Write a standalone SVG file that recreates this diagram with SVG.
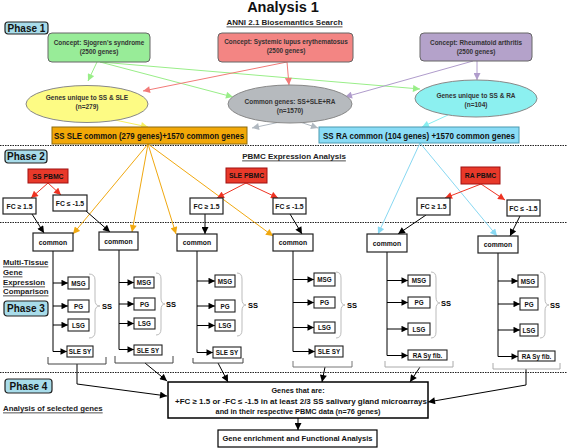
<svg xmlns="http://www.w3.org/2000/svg" width="567" height="448" viewBox="0 0 567 448">
<style>
text{font-family:"Liberation Sans",Arial,sans-serif;font-weight:bold;text-anchor:middle;dominant-baseline:central;fill:#111}
.ph rect{fill:#a8dcea;stroke:#222;stroke-width:1.2}
.ph text{font-size:10px}
.con text{font-size:6.4px;fill:#333}
.con rect{stroke:#666;stroke-width:1}
.ell ellipse{stroke:#888;stroke-width:1}
.ell text{font-size:6.5px;fill:#333}
.wb rect{fill:#fff;stroke:#222;stroke-width:1.2}
.wb text{font-size:6.8px}
.sm rect{fill:#fff;stroke:#222;stroke-width:1.1}
.sm text{font-size:6.3px}
.pb rect{fill:#e8392a;stroke:#a01010;stroke-width:1}
.pb text{font-size:6.8px}
.ul{text-decoration:underline;font-size:8px;fill:#222}
.lt{text-anchor:start;font-size:7.8px;text-decoration:underline;fill:#222}
.dot{stroke:#222;stroke-width:1;stroke-dasharray:1.5,1}
.ln{fill:none}
.brace{fill:none;stroke:#bbb;stroke-width:1}
.br{fill:none;stroke-width:1}
.sm text.ss{font-size:7.5px;fill:#000}
</style>
<defs>
<marker id="mG" viewBox="0 0 10 10" refX="10" refY="5" markerWidth="8" markerHeight="7" markerUnits="userSpaceOnUse" orient="auto"><path d="M0,0L10,5L0,10z" fill="#99ee88"/></marker>
<marker id="mR" viewBox="0 0 10 10" refX="10" refY="5" markerWidth="8" markerHeight="7" markerUnits="userSpaceOnUse" orient="auto"><path d="M0,0L10,5L0,10z" fill="#f27a78"/></marker>
<marker id="mP" viewBox="0 0 10 10" refX="10" refY="5" markerWidth="8" markerHeight="7" markerUnits="userSpaceOnUse" orient="auto"><path d="M0,0L10,5L0,10z" fill="#b09ccc"/></marker>
<marker id="mY" viewBox="0 0 10 10" refX="10" refY="5" markerWidth="8" markerHeight="7" markerUnits="userSpaceOnUse" orient="auto"><path d="M0,0L10,5L0,10z" fill="#f8f060"/></marker>
<marker id="mGr" viewBox="0 0 10 10" refX="10" refY="5" markerWidth="8" markerHeight="7" markerUnits="userSpaceOnUse" orient="auto"><path d="M0,0L10,5L0,10z" fill="#b0b8c0"/></marker>
<marker id="mC" viewBox="0 0 10 10" refX="10" refY="5" markerWidth="8" markerHeight="7" markerUnits="userSpaceOnUse" orient="auto"><path d="M0,0L10,5L0,10z" fill="#88eef0"/></marker>
<marker id="mO" viewBox="0 0 10 10" refX="10" refY="5" markerWidth="8" markerHeight="7" markerUnits="userSpaceOnUse" orient="auto"><path d="M0,0L10,5L0,10z" fill="#f0a810"/></marker>
<marker id="mB" viewBox="0 0 10 10" refX="10" refY="5" markerWidth="8" markerHeight="7" markerUnits="userSpaceOnUse" orient="auto"><path d="M0,0L10,5L0,10z" fill="#88d8f2"/></marker>
<marker id="mPR" viewBox="0 0 10 10" refX="10" refY="5" markerWidth="8" markerHeight="7" markerUnits="userSpaceOnUse" orient="auto"><path d="M0,0L10,5L0,10z" fill="#ee3322"/></marker>
<marker id="mK" viewBox="0 0 10 10" refX="10" refY="5" markerWidth="8" markerHeight="7" markerUnits="userSpaceOnUse" orient="auto"><path d="M0,0L10,5L0,10z" fill="#000"/></marker>
<marker id="mk" viewBox="0 0 10 10" refX="10" refY="5" markerWidth="7.5" markerHeight="6.5" markerUnits="userSpaceOnUse" orient="auto"><path d="M0,0L10,5L0,10z" fill="#000"/></marker>
</defs>
<rect width="567" height="448" fill="#fff"/>

<!-- titles and separators -->
<g id="titles">
<text x="283" y="7" style="font-size:14.5px" fill="#000">Analysis 1</text>
<text class="ul" x="284.5" y="22">ANNI 2.1 Biosemantics Search</text>
<text class="ul" x="294" y="156">PBMC Expression Analysis</text>
<text class="lt" x="3" y="262">Multi-Tissue</text>
<text class="lt" x="3" y="272">Gene</text>
<text class="lt" x="3" y="282">Expression</text>
<text class="lt" x="3" y="291">Comparison</text>
<text class="lt" x="3" y="408">Analysis of selected genes</text>
</g>
<g id="separators">
<line class="dot" x1="0" y1="145.5" x2="567" y2="145.5"/>
<line class="dot" x1="0" y1="222.5" x2="567" y2="222.5"/>
<line class="dot" x1="0" y1="372.5" x2="567" y2="372.5"/>
</g>

<!-- connectors -->
<g id="connectors" class="ln" stroke-width="1">
<g stroke="#99ee88">
<line x1="97" y1="62" x2="88" y2="81" marker-end="url(#mG)"/>
<line x1="100" y1="62" x2="233" y2="97" marker-end="url(#mG)"/>
<line x1="100" y1="62" x2="420" y2="89" marker-end="url(#mG)"/>
</g>
<g stroke="#f27a78">
<line x1="287" y1="62" x2="143" y2="91" marker-end="url(#mR)"/>
<line x1="287" y1="62" x2="289" y2="85" marker-end="url(#mR)"/>
</g>
<g stroke="#b09ccc">
<line x1="473" y1="61" x2="345" y2="97" marker-end="url(#mP)"/>
<line x1="477" y1="61" x2="477" y2="80" marker-end="url(#mP)"/>
</g>
<line stroke="#f8f060" x1="115" y1="120" x2="148" y2="127" marker-end="url(#mY)"/>
<line stroke="#b0b8c0" x1="280" y1="122" x2="252" y2="128" marker-end="url(#mGr)"/>
<line stroke="#b0b8c0" x1="300" y1="122" x2="318" y2="128" marker-end="url(#mGr)"/>
<line stroke="#88eef0" x1="448" y1="115" x2="422" y2="127" marker-end="url(#mC)"/>
<g stroke="#f0a810">
<line x1="148" y1="144" x2="73" y2="234" marker-end="url(#mO)"/>
<line x1="148" y1="144" x2="132" y2="232" marker-end="url(#mO)"/>
<line x1="148" y1="144" x2="176" y2="234" marker-end="url(#mO)"/>
<line x1="148" y1="144" x2="273" y2="236" marker-end="url(#mO)"/>
</g>
<g stroke="#88d8f2">
<line x1="420" y1="143" x2="378" y2="234" marker-end="url(#mB)"/>
<line x1="420" y1="143" x2="497" y2="236" marker-end="url(#mB)"/>
</g>
<g stroke="#ee3322">
<line x1="48" y1="183" x2="31" y2="198" marker-end="url(#mPR)"/>
<line x1="48" y1="183" x2="61" y2="195" marker-end="url(#mPR)"/>
<line x1="246" y1="183" x2="217" y2="198" marker-end="url(#mPR)"/>
<line x1="246" y1="183" x2="278" y2="198" marker-end="url(#mPR)"/>
<line x1="481" y1="184" x2="445" y2="198" marker-end="url(#mPR)"/>
<line x1="481" y1="184" x2="505" y2="200" marker-end="url(#mPR)"/>
</g>
<g stroke="#000">
<line x1="32" y1="214" x2="44" y2="233" marker-end="url(#mK)"/>
<line x1="86" y1="211" x2="110" y2="232" marker-end="url(#mK)"/>
<line x1="205" y1="214" x2="205" y2="234" marker-end="url(#mK)"/>
<line x1="290" y1="214" x2="302" y2="234" marker-end="url(#mK)"/>
<line x1="426" y1="215" x2="398" y2="234" marker-end="url(#mK)"/>
<line x1="520" y1="216" x2="510" y2="236" marker-end="url(#mK)"/>
</g>
<g stroke="#000">
<line x1="53" y1="251" x2="53" y2="351.5"/>
<line x1="119" y1="250" x2="119" y2="349.5"/>
<line x1="197" y1="251" x2="197" y2="352.5"/>
<line x1="293" y1="251" x2="293" y2="351.5"/>
<line x1="387" y1="252" x2="387" y2="355.5"/>
<line x1="498" y1="253" x2="498" y2="356.5"/>
<line x1="53" y1="283" x2="68" y2="283" marker-end="url(#mk)"/>
<line x1="53" y1="306" x2="68" y2="306" marker-end="url(#mk)"/>
<line x1="53" y1="325" x2="68" y2="325" marker-end="url(#mk)"/>
<line x1="53" y1="351.5" x2="67" y2="351.5" marker-end="url(#mk)"/>
<line x1="119" y1="282.5" x2="134" y2="282.5" marker-end="url(#mk)"/>
<line x1="119" y1="304" x2="134" y2="304" marker-end="url(#mk)"/>
<line x1="119" y1="323.5" x2="134" y2="323.5" marker-end="url(#mk)"/>
<line x1="119" y1="349.5" x2="134" y2="349.5" marker-end="url(#mk)"/>
<line x1="197" y1="281" x2="215" y2="281" marker-end="url(#mk)"/>
<line x1="197" y1="306" x2="215" y2="306" marker-end="url(#mk)"/>
<line x1="197" y1="325.5" x2="215" y2="325.5" marker-end="url(#mk)"/>
<line x1="197" y1="352.5" x2="213" y2="352.5" marker-end="url(#mk)"/>
<line x1="293" y1="279.5" x2="314" y2="279.5" marker-end="url(#mk)"/>
<line x1="293" y1="302.5" x2="314" y2="302.5" marker-end="url(#mk)"/>
<line x1="293" y1="327.5" x2="314" y2="327.5" marker-end="url(#mk)"/>
<line x1="293" y1="351.5" x2="315" y2="351.5" marker-end="url(#mk)"/>
<line x1="387" y1="280.5" x2="408" y2="280.5" marker-end="url(#mk)"/>
<line x1="387" y1="302.5" x2="408" y2="302.5" marker-end="url(#mk)"/>
<line x1="387" y1="329" x2="408" y2="329" marker-end="url(#mk)"/>
<line x1="387" y1="355.5" x2="408" y2="355.5" marker-end="url(#mk)"/>
<line x1="498" y1="281" x2="518" y2="281" marker-end="url(#mk)"/>
<line x1="498" y1="304" x2="520" y2="304" marker-end="url(#mk)"/>
<line x1="498" y1="330" x2="520" y2="330" marker-end="url(#mk)"/>
<line x1="498" y1="356.5" x2="518" y2="356.5" marker-end="url(#mk)"/>
<polyline points="77,364 77,384 167,396" marker-end="url(#mK)"/>
<line x1="145" y1="363" x2="167" y2="381" marker-end="url(#mK)"/>
<line x1="218" y1="363" x2="228" y2="382" marker-end="url(#mK)"/>
<line x1="325" y1="367" x2="322" y2="382" marker-end="url(#mK)"/>
<line x1="420" y1="367" x2="410" y2="382" marker-end="url(#mK)"/>
<polyline points="526,369 526,385 428,402" marker-end="url(#mK)"/>
<line x1="298" y1="418" x2="298" y2="430" marker-end="url(#mK)"/>
</g>
<path class="brace" d="M89,274 Q95,274 95,280 L95,300 Q95,306 100,306 Q95,306 95,312 L95,332 Q95,338 89,338"/>
<path class="brace" d="M156,273 Q161,273 161,279 L161,298 Q161,304 165,304 Q161,304 161,310 L161,329 Q161,335 156,335"/>
<path class="brace" d="M237,273 Q242,273 242,279 L242,299 Q242,305 246,305 Q242,305 242,311 L242,330 Q242,336 237,336"/>
<path class="brace" d="M336,272 Q341,272 341,278 L341,299 Q341,305 345,305 Q341,305 341,311 L341,332 Q341,338 336,338"/>
<path class="brace" d="M431,272 Q436,272 436,278 L436,297 Q436,303 440,303 Q436,303 436,309 L436,332 Q436,338 431,338"/>
<path class="brace" d="M540,272 Q545,272 545,278 L545,299 Q545,305 549,305 Q545,305 545,311 L545,332 Q545,338 540,338"/>
<path class="br" stroke="#444" d="M48,357 L48,364 L106,364 L106,357"/>
<path class="br" stroke="#444" d="M115,356 L115,363 L173,363 L173,356"/>
<path class="br" stroke="#444" d="M193,358 L193,363 L243,363 L243,358"/>
<path class="br" stroke="#777" d="M293,361 L293,367 L352,367 L352,361"/>
<path class="br" stroke="#aaa" d="M385,361 L385,367 L453,367 L453,361"/>
<path class="br" stroke="#aaa" d="M493,363 L493,369 L560,369 L560,363"/>
</g>

<g id="phase1" class="ph"><rect x="5" y="22" width="43" height="12" rx="3"/><text x="26.5" y="28">Phase 1</text></g>
<g id="phase2" class="ph"><rect x="5" y="150" width="42" height="13" rx="3"/><text x="26" y="156.5">Phase 2</text></g>
<g id="phase3" class="ph"><rect x="4" y="301" width="44" height="15" rx="3"/><text x="26" y="308.5">Phase 3</text></g>
<g id="phase4" class="ph"><rect x="5" y="379" width="47" height="14" rx="3"/><text x="28.5" y="386">Phase 4</text></g>

<g id="concept-ss" class="con"><rect x="48" y="33" width="102" height="29" rx="4" fill="#98ec98"/><text x="99" y="42">Concept: Sjogren's syndrome</text><text x="99" y="51.5">(2500 genes)</text></g>
<g id="concept-sle" class="con"><rect x="218" y="33" width="135" height="29" rx="4" fill="#f38583"/><text x="286" y="41.5">Concept: Systemic lupus erythematosus</text><text x="286" y="50.5">(2500 genes)</text></g>
<g id="concept-ra" class="con"><rect x="420" y="33" width="112" height="28" rx="4" fill="#b4a2ca"/><text x="476" y="42">Concept: Rheumatoid arthritis</text><text x="476" y="51">(2500 genes)</text></g>
<g id="unique-ss-sle" class="ell"><ellipse cx="87" cy="104" rx="61" ry="18.5" fill="#fdfb84"/><text x="87" y="97">Genes unique to SS &amp; SLE</text><text x="87" y="106">(n=279)</text></g>
<g id="common-genes" class="ell"><ellipse cx="290" cy="104" rx="62" ry="19" fill="#b6babe"/><text x="290" y="101">Common genes: SS+SLE+RA</text><text x="290" y="110">(n=1570)</text></g>
<g id="unique-ss-ra" class="ell"><ellipse cx="476" cy="98.5" rx="61" ry="18.5" fill="#8cf0f0"/><text x="476" y="95">Genes unique to SS &amp; RA</text><text x="476" y="104">(n=104)</text></g>
<g id="ss-sle-common"><rect x="52" y="127" width="195" height="17" fill="#f2a808" stroke="#8a6a10" stroke-width="1"/><text x="149" y="136" style="font-size:8.3px" textLength="190" lengthAdjust="spacingAndGlyphs">SS SLE common (279 genes)+1570 common genes</text></g>
<g id="ss-ra-common"><rect x="319" y="127" width="200" height="16" fill="#8adcf6" stroke="#4a9ab0" stroke-width="1"/><text x="419" y="135.5" style="font-size:8.3px" textLength="192" lengthAdjust="spacingAndGlyphs">SS RA common (104 genes) +1570 common genes</text></g>

<g id="ss-pbmc" class="pb"><rect x="28" y="169" width="40" height="14"/><text x="48" y="176">SS PBMC</text></g>
<g id="sle-pbmc" class="pb"><rect x="226" y="168" width="41" height="15"/><text x="246.5" y="175.5">SLE PBMC</text></g>
<g id="ra-pbmc" class="pb"><rect x="461" y="167" width="39" height="17"/><text x="480.5" y="175.5">RA PBMC</text></g>
<g id="fc-ss-up" class="wb"><rect x="3" y="198" width="33" height="16"/><text x="19.5" y="206">FC ≥ 1.5</text></g>
<g id="fc-ss-down" class="wb"><rect x="53" y="195" width="34" height="16"/><text x="70" y="203">FC ≤ -1.5</text></g>
<g id="fc-sle-up" class="wb"><rect x="190" y="198" width="33" height="16"/><text x="206.5" y="206">FC ≥ 1.5</text></g>
<g id="fc-sle-down" class="wb"><rect x="273" y="198" width="33" height="16"/><text x="289.5" y="206">FC ≤ -1.5</text></g>
<g id="fc-ra-up" class="wb"><rect x="417" y="198" width="33" height="17"/><text x="433.5" y="206.5">FC ≥ 1.5</text></g>
<g id="fc-ra-down" class="wb"><rect x="507" y="200" width="33" height="16"/><text x="523.5" y="208">FC ≤ -1.5</text></g>
<g id="common1" class="wb"><rect x="33" y="233" width="40" height="18"/><text x="53" y="242">common</text></g>
<g id="common2" class="wb"><rect x="99" y="232" width="39" height="18"/><text x="118.5" y="241">common</text></g>
<g id="common3" class="wb"><rect x="177" y="234" width="40" height="17"/><text x="197" y="242.5">common</text></g>
<g id="common4" class="wb"><rect x="273" y="234" width="40" height="17"/><text x="293" y="242.5">common</text></g>
<g id="common5" class="wb"><rect x="367" y="234" width="40" height="18"/><text x="387" y="243">common</text></g>
<g id="common6" class="wb"><rect x="478" y="236" width="40" height="17"/><text x="498" y="244.5">common</text></g>

<g id="col1" class="sm">
<rect x="68" y="277" width="21" height="12"/><text x="78.5" y="283">MSG</text>
<rect x="68" y="300" width="21" height="12"/><text x="78.5" y="306">PG</text>
<rect x="68" y="319" width="21" height="12"/><text x="78.5" y="325">LSG</text>
<rect x="67" y="346" width="26" height="11"/><text x="80" y="351.5">SLE SY</text>
<text class="ss" x="107" y="306">SS</text>
</g>
<g id="col2" class="sm">
<rect x="134" y="277" width="20" height="11"/><text x="144" y="282.5">MSG</text>
<rect x="134" y="298" width="21" height="12"/><text x="144.5" y="304">PG</text>
<rect x="134" y="318" width="21" height="11"/><text x="144.5" y="323.5">LSG</text>
<rect x="134" y="345" width="28" height="10"/><text x="148" y="350">SLE SY</text>
<text class="ss" x="171" y="304">SS</text>
</g>
<g id="col3" class="sm">
<rect x="215" y="275" width="20" height="12"/><text x="225" y="281">MSG</text>
<rect x="215" y="300" width="20" height="12"/><text x="225" y="306">PG</text>
<rect x="215" y="320" width="20" height="11"/><text x="225" y="325.5">LSG</text>
<rect x="213" y="347" width="28" height="11"/><text x="227" y="352.5">SLE SY</text>
<text class="ss" x="253" y="305">SS</text>
</g>
<g id="col4" class="sm">
<rect x="314" y="273" width="21" height="13"/><text x="324.5" y="279.5">MSG</text>
<rect x="314" y="297" width="21" height="11"/><text x="324.5" y="302.5">PG</text>
<rect x="314" y="322" width="21" height="11"/><text x="324.5" y="327.5">LSG</text>
<rect x="315" y="346" width="28" height="11"/><text x="329" y="351.5">SLE SY</text>
<text class="ss" x="352" y="305">SS</text>
</g>
<g id="col5" class="sm">
<rect x="408" y="275" width="22" height="11"/><text x="419" y="280.5">MSG</text>
<rect x="408" y="297" width="22" height="11"/><text x="419" y="302.5">PG</text>
<rect x="408" y="323" width="22" height="12"/><text x="419" y="329">LSG</text>
<rect x="408" y="350" width="39" height="10"/><text x="427.5" y="355">RA Sy fib.</text>
<text class="ss" x="446" y="303">SS</text>
</g>
<g id="col6" class="sm">
<rect x="518" y="275" width="20" height="12"/><text x="528" y="281">MSG</text>
<rect x="520" y="298" width="18" height="12"/><text x="529" y="304">PG</text>
<rect x="520" y="324" width="18" height="12"/><text x="529" y="330">LSG</text>
<rect x="518" y="351" width="37" height="10"/><text x="536.5" y="356">RA Sy fib.</text>
<text class="ss" x="555" y="305">SS</text>
</g>

<g id="selected-genes"><rect x="168" y="382" width="260" height="36" fill="#fff" stroke="#000" stroke-width="1.5"/>
<text x="298" y="390.5" style="font-size:7.3px">Genes that are:</text>
<text x="301" y="401.5" style="font-size:7.3px" textLength="252" lengthAdjust="spacingAndGlyphs">+FC ≥ 1.5 or -FC ≤ -1.5 in at least 2/3 SS salivary gland microarrays</text>
<text x="298" y="411.5" style="font-size:7.3px">and in their respective PBMC data (n=76 genes)</text></g>
<g id="enrichment"><rect x="218" y="430" width="159" height="17" fill="#fff" stroke="#000" stroke-width="1.2"/><text x="297.5" y="438.5" style="font-size:7.3px" textLength="150" lengthAdjust="spacingAndGlyphs">Gene enrichment and Functional Analysis</text></g>
</svg>
